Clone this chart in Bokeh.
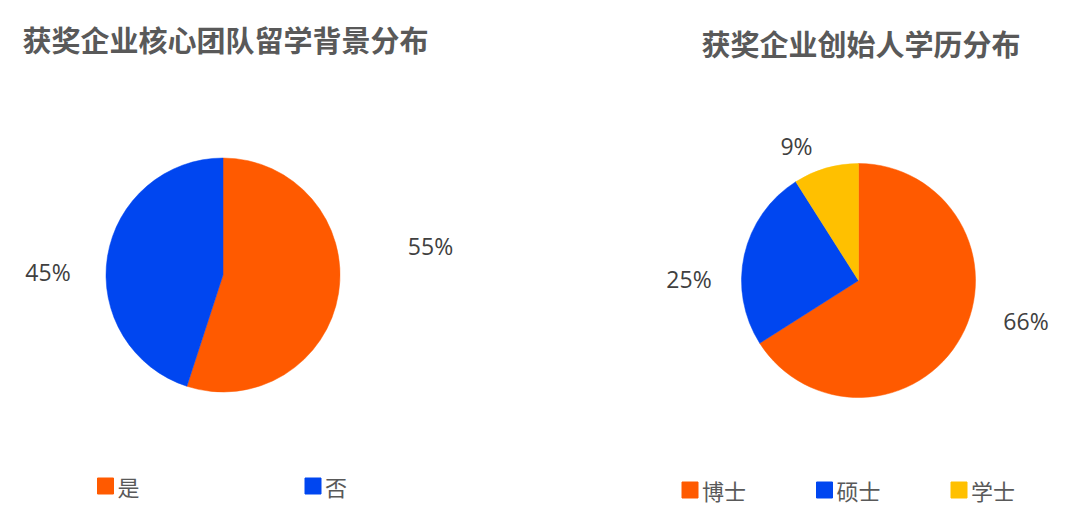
import math
from bokeh.plotting import figure
from bokeh.models import Range1d, ColumnDataSource
from bokeh.core.properties import value
from bokeh.embed import file_html
from bokeh.resources import INLINE

# ---------------- data ----------------
left_title = "获奖企业核心团队留学背景分布"
left_categories = ["是", "否"]
left_values = [55, 45]
left_colors = ["#FF5A00", "#0046F0"]

right_title = "获奖企业创始人学历分布"
right_categories = ["博士", "硕士", "学士"]
right_values = [66, 25, 9]
right_colors = ["#FF5A00", "#0046F0", "#FFC000"]

# ---------------- layout (pixels) ----------------
W, H = 1064, 506
R = 117
left_center = (222.5, 231.5)
right_center = (858.0, 226.0)
left_label_offsets = [(207.5, 29.5), (-175.0, 3.5)]
right_label_offsets = [(167.5, -40.0), (-169.5, 2.0), (-62.0, 135.0)]
left_legend_x = [105.0, 312.5]
left_legend_y = 20.5
right_legend_x = [689.5, 824.0, 958.5]
right_legend_y = 16.5

CJK = "Noto Sans CJK SC"
NUM = "Open Sans"
TEXT_GREY = "#595959"
LABEL_GREY = "#404040"

p = figure(width=W, height=H, output_backend="svg", toolbar_location=None,
           x_range=Range1d(0, W), y_range=Range1d(0, H), min_border=0)
p.axis.visible = False
p.grid.visible = False
p.outline_line_color = None
p.background_fill_color = "white"
p.border_fill_color = "white"


def pie(center, cats, vals, colors, offsets):
    total = float(sum(vals))
    starts, ends = [], []
    cum = 0.0
    for v in vals:
        starts.append(math.pi / 2 - 2 * math.pi * cum / total)
        cum += v
        ends.append(math.pi / 2 - 2 * math.pi * cum / total)
    src = ColumnDataSource(dict(
        x=[center[0]] * len(vals), y=[center[1]] * len(vals),
        start=starts, end=ends, color=colors, cat=cats))
    p.wedge(x="x", y="y", radius=R, start_angle="start", end_angle="end",
            direction="clock", fill_color="color", line_color="color",
            line_width=0.5, source=src)
    labels = ["%d%%" % round(100 * v / total) for v in vals]
    lsrc = ColumnDataSource(dict(
        x=[center[0] + o[0] for o in offsets],
        y=[center[1] + o[1] for o in offsets],
        text=labels))
    p.text(x="x", y="y", text="text", source=lsrc, text_align="center",
           text_baseline="middle", text_font=value(NUM), text_font_size="23px",
           text_color=LABEL_GREY)


def legend(xs, y, cats, colors):
    src = ColumnDataSource(dict(x=xs, y=[y] * len(xs), color=colors,
                                tx=[x + 12 for x in xs], text=cats))
    p.scatter(x="x", y="y", marker="square", size=16, fill_color="color",
              line_color="color", source=src)
    p.text(x="tx", y="y", text="text", source=src, text_align="left",
           text_baseline="middle", text_font=value(CJK), text_font_size="22px",
           text_color=TEXT_GREY)


pie(left_center, left_categories, left_values, left_colors, left_label_offsets)
pie(right_center, right_categories, right_values, right_colors, right_label_offsets)
legend(left_legend_x, left_legend_y, left_categories, left_colors)
legend(right_legend_x, right_legend_y, right_categories, right_colors)

p.text(x=[22], y=[468], text=[left_title], text_align="left", text_baseline="middle",
       text_font=value(CJK), text_font_style="bold", text_font_size="29px",
       text_color=TEXT_GREY)
p.text(x=[701], y=[463.5], text=[right_title], text_align="left", text_baseline="middle",
       text_font=value(CJK), text_font_style="bold", text_font_size="29px",
       text_color=TEXT_GREY)

open("out.html", "w").write(file_html(p, INLINE))
